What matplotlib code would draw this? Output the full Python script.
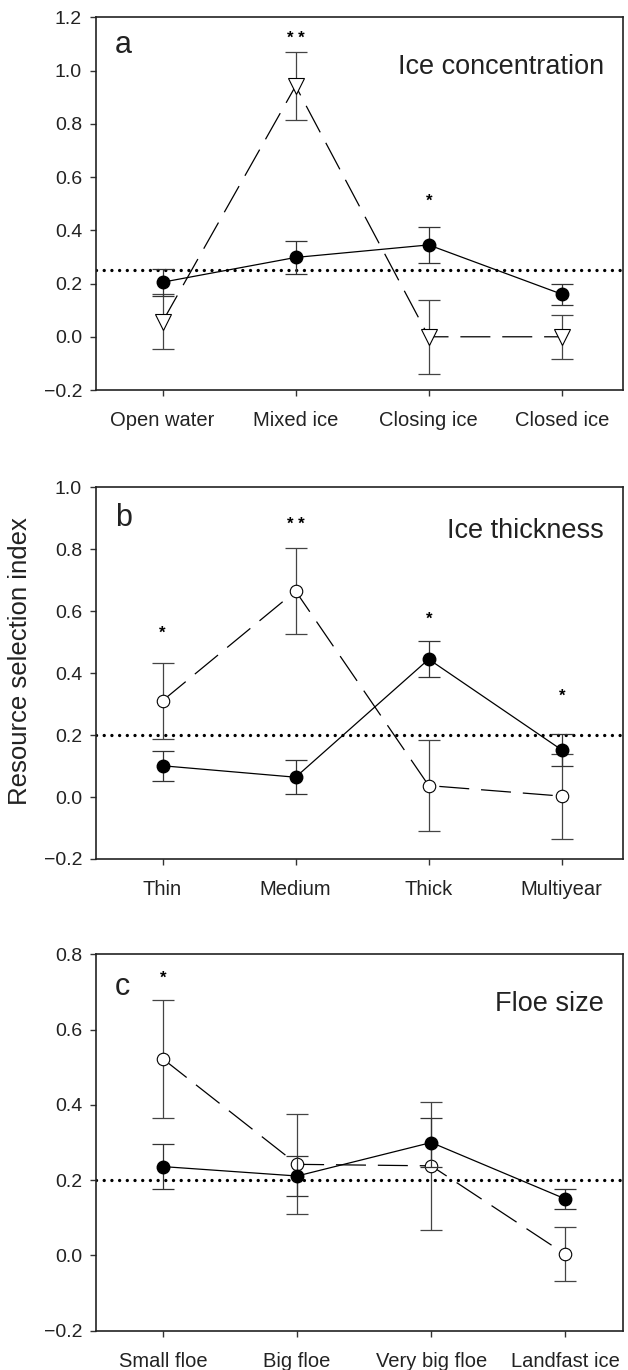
import matplotlib
matplotlib.use("Agg")
import matplotlib.pyplot as plt

plt.rcParams['font.family'] = ['Liberation Sans', 'DejaVu Sans']

# panel a - ice concentration
cat_a = ["Open water", "Mixed ice", "Closing ice", "Closed ice"]
filled_a = [0.205, 0.298, 0.345, 0.160]
filled_a_err = [0.050, 0.063, 0.067, 0.040]
open_a = [0.057, 0.942, 0.000, 0.000]
open_a_err = [0.102, 0.128, 0.138, 0.082]
stars_a = ["", "* *", "*", ""]
star_y_a = [None, 1.12, 0.51, None]
ref_a = 0.25

# panel b - ice thickness
cat_b = ["Thin", "Medium", "Thick", "Multiyear"]
filled_b = [0.101, 0.064, 0.445, 0.152]
filled_b_err = [0.048, 0.054, 0.058, 0.053]
open_b = [0.311, 0.665, 0.037, 0.003]
open_b_err = [0.123, 0.140, 0.148, 0.137]
stars_b = ["*", "* *", "*", "*"]
star_y_b = [0.53, 0.88, 0.575, 0.326]
ref_b = 0.20

# panel c - floe size
cat_c = ["Small floe", "Big floe", "Very big floe", "Landfast ice"]
filled_c = [0.236, 0.211, 0.300, 0.150]
filled_c_err = [0.060, 0.052, 0.064, 0.027]
open_c = [0.522, 0.242, 0.238, 0.003]
open_c_err = [0.157, 0.133, 0.170, 0.072]
stars_c = ["*", "", "", ""]
star_y_c = [0.736, None, None, None]
ref_c = 0.20

panels = [
    dict(cats=cat_a, f=filled_a, fe=filled_a_err, o=open_a, oe=open_a_err,
         stars=stars_a, sy=star_y_a, ref=ref_a, letter="a", title="Ice concentration",
         marker="v", ylim=(-0.2, 1.2), ticks=[-0.2, 0.0, 0.2, 0.4, 0.6, 0.8, 1.0, 1.2],
         rect=[96 / 628, 0.7153, 527 / 628, 0.2721], letter_y=0.904, title_y=0.867,
         xmax=3.46),
    dict(cats=cat_b, f=filled_b, fe=filled_b_err, o=open_b, oe=open_b_err,
         stars=stars_b, sy=star_y_b, ref=ref_b, letter="b", title="Ice thickness",
         marker="o", ylim=(-0.2, 1.0), ticks=[-0.2, 0.0, 0.2, 0.4, 0.6, 0.8, 1.0],
         rect=[96 / 628, 0.3730, 527 / 628, 0.2713], letter_y=0.896, title_y=0.882,
         xmax=3.46),
    dict(cats=cat_c, f=filled_c, fe=filled_c_err, o=open_c, oe=open_c_err,
         stars=stars_c, sy=star_y_c, ref=ref_c, letter="c", title="Floe size",
         marker="o", ylim=(-0.2, 0.8), ticks=[-0.2, 0.0, 0.2, 0.4, 0.6, 0.8],
         rect=[96 / 628, 0.0287, 527 / 628, 0.2747], letter_y=0.892, title_y=0.868,
         xmax=3.43),
]

fig = plt.figure(figsize=(6.28, 13.70), dpi=100)

for p in panels:
    ax = fig.add_axes(p["rect"])
    x = list(range(len(p["cats"])))

    ax.axhline(p["ref"], color="black", lw=2.4, dashes=(0.01, 2.3),
               dash_capstyle="round", zorder=1)

    # open symbols, dashed
    ax.errorbar(x, p["o"], yerr=p["oe"], fmt="none", ecolor="#444444",
                elinewidth=0.9, capsize=8, capthick=0.9, zorder=2)
    ms = 12 if p["marker"] == "v" else 9
    ax.plot(x, p["o"], color="black", lw=0.9, dashes=(24, 9.5),
            marker=p["marker"], ms=ms, mfc="white", mec="black", mew=0.8, zorder=3)

    # filled symbols, solid
    ax.errorbar(x, p["f"], yerr=p["fe"], fmt="none", ecolor="#333333",
                elinewidth=0.9, capsize=8, capthick=0.9, zorder=4)
    ax.plot(x, p["f"], color="black", lw=0.9, marker="o", ms=9,
            mfc="black", mec="black", zorder=5)

    for xi, s, sy in zip(x, p["stars"], p["sy"]):
        if s:
            ax.text(xi, sy, s, ha="center", va="center", fontsize=12,
                    fontweight="bold")

    ax.set_xlim(-0.5, p["xmax"])
    ax.set_ylim(*p["ylim"])
    ax.set_yticks(p["ticks"])
    ax.set_yticklabels(["\u22120.2" if t < 0 else f"{t:.1f}" for t in p["ticks"]])
    ax.set_xticks(x)
    ax.set_xticklabels(p["cats"])
    ax.tick_params(axis="both", labelsize=14.5, length=4, width=1, direction="out",
                   color="#333333", labelcolor="#222222")
    ax.tick_params(axis="y", labelsize=14, pad=6)
    ax.tick_params(axis="x", pad=11)
    for sp in ax.spines.values():
        sp.set_linewidth(1.2)
        sp.set_color("#222222")

    ax.text(0.036, p["letter_y"], p["letter"], transform=ax.transAxes, fontsize=22,
            ha="left", va="baseline", color="#222222")
    ax.text(0.964, p["title_y"], p["title"], transform=ax.transAxes, fontsize=19.5,
            ha="right", va="center", color="#222222")

fig.text(20 / 628, 1 - 661 / 1370, "Resource selection index", rotation=90,
         ha="center", va="center", fontsize=18.5, color="#222222")

fig.savefig("out.png", dpi=100)
